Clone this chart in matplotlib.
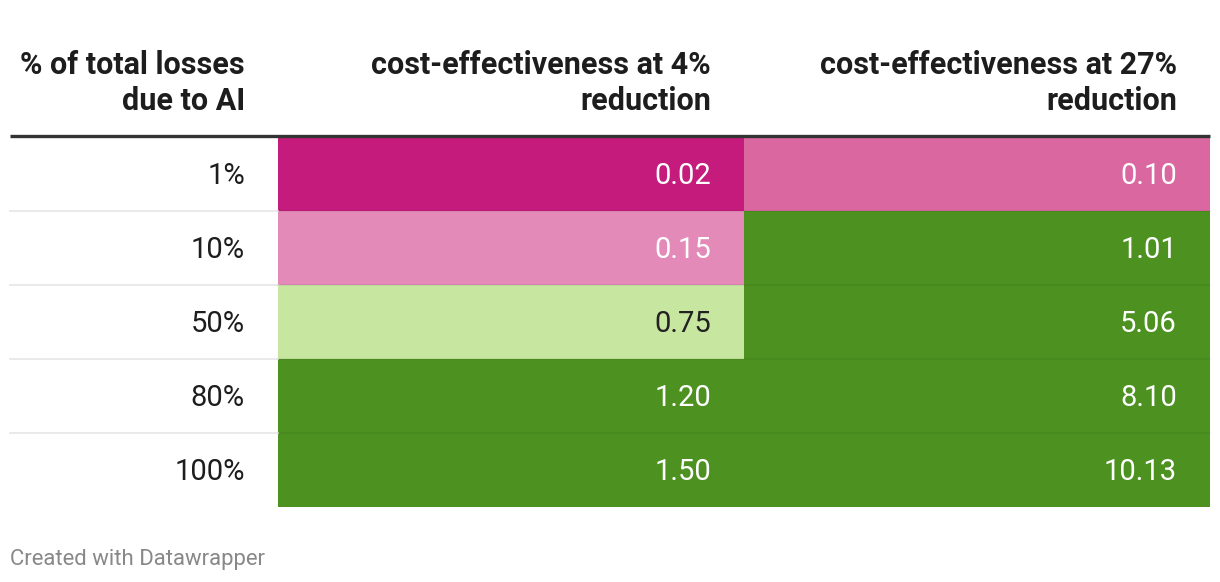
import matplotlib.pyplot as plt
from matplotlib.patches import Rectangle

plt.rcParams['font.family'] = ['Roboto', 'DejaVu Sans']

headers = ["% of total losses\ndue to AI",
           "cost-effectiveness at 4%\nreduction",
           "cost-effectiveness at 27%\nreduction"]
share_labels = ["1%", "10%", "50%", "80%", "100%"]
ce_4pct = [0.02, 0.15, 0.75, 1.20, 1.50]
ce_27pct = [0.10, 1.01, 5.06, 8.10, 10.13]


def cell_colour(v):
    # bucketed scale like the datawrapper table
    if v < 0.05:
        return "#c51b7c", "white"
    if v < 0.125:
        return "#da67a0", "white"
    if v < 0.5:
        return "#e38ab8", "white"
    if v < 1.0:
        return "#c7e6a0", "#222222"
    return "#4d9221", "white"


W, H = 1220, 582
fig = plt.figure(figsize=(W / 100, H / 100), dpi=100)
ax = fig.add_axes([0, 0, 1, 1])
ax.set_xlim(0, W)
ax.set_ylim(H, 0)
ax.axis("off")

col_edges = [10, 278, 744, 1210]
text_pad = 33
top = 137
row_h = 74
fs = 21

# header
for j, h in enumerate(headers):
    for k, line in enumerate(h.split("\n")):
        ax.text(col_edges[j + 1] - text_pad, 74 + 36 * k, line, ha="right",
                va="baseline", fontsize=22, fontweight="bold", color="#1d1d1d")
ax.plot([col_edges[0], col_edges[-1]], [135.5, 135.5], color="#333333",
        lw=2.4, solid_capstyle="butt")

# rows
for i, lab in enumerate(share_labels):
    y0 = top + i * row_h
    ax.text(col_edges[1] - text_pad, y0 + 47, lab, ha="right", va="baseline",
            fontsize=fs, color="#1d1d1d")
    for j, vals in enumerate([ce_4pct, ce_27pct]):
        v = vals[i]
        bg, fg = cell_colour(v)
        ax.add_patch(Rectangle((col_edges[j + 1], y0), col_edges[j + 2] - col_edges[j + 1],
                               row_h, facecolor=bg, edgecolor="none"))
        ax.text(col_edges[j + 2] - text_pad, y0 + 47, f"{v:.2f}", ha="right",
                va="baseline", fontsize=fs, color=fg)
    if i > 0:
        ax.plot([col_edges[0], col_edges[1]], [y0, y0], color="#e6e6e6", lw=1.2)
        ax.plot([col_edges[1], col_edges[-1]], [y0, y0], color="black", alpha=0.05,
                lw=1.5)

ax.text(10, 565, "Created with Datawrapper", ha="left", va="baseline",
        fontsize=15.9, color="#888888")

fig.savefig("out.png", dpi=100)
